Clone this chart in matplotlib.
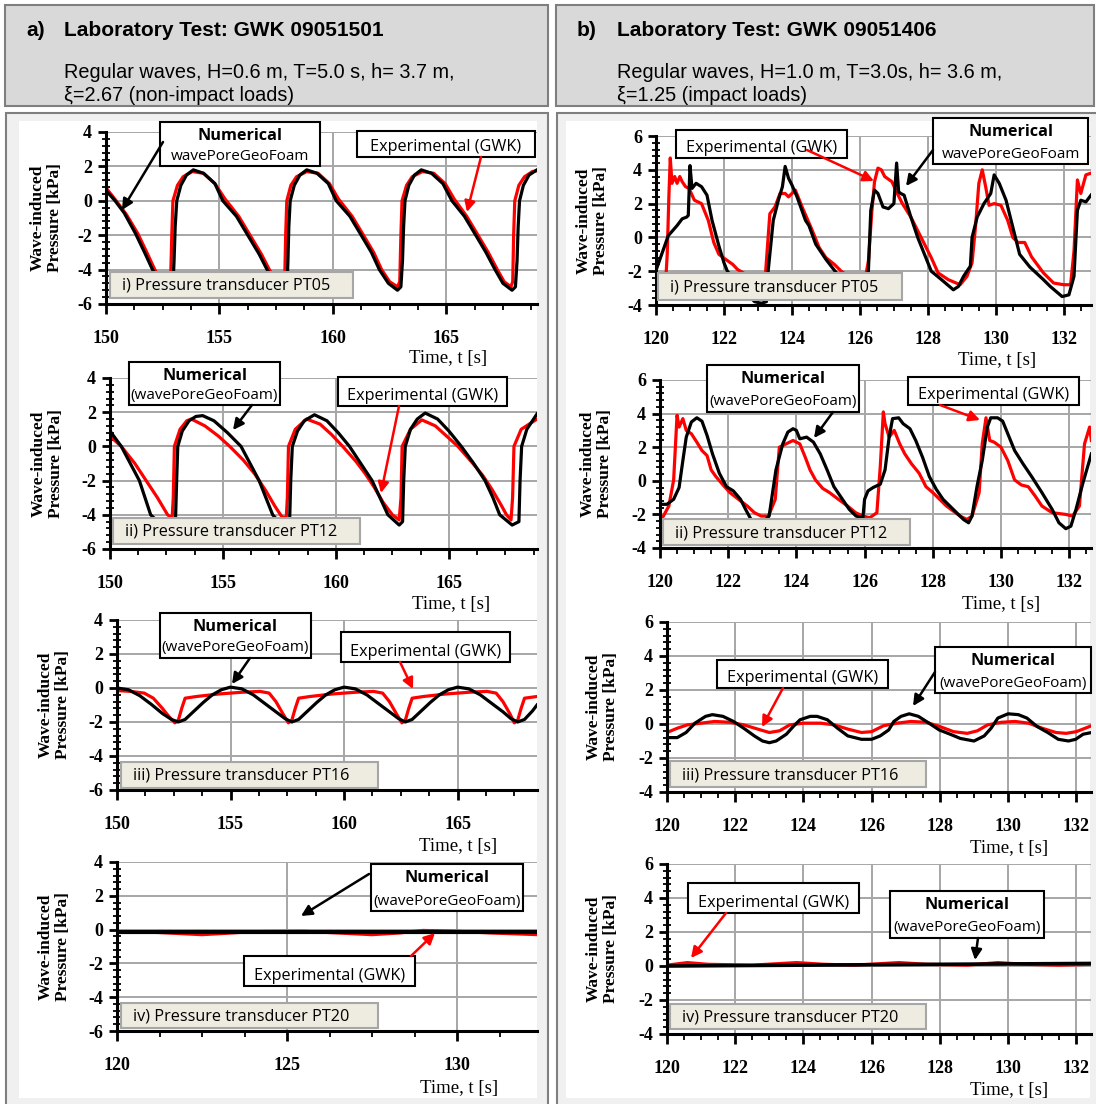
import matplotlib
matplotlib.use("Agg")
import matplotlib.pyplot as plt
from matplotlib.patches import Rectangle, FancyArrowPatch
from matplotlib.ticker import MultipleLocator

plt.rcParams['axes.unicode_minus'] = False

# ---------------- text content ----------------
head_a = ("a)", "Laboratory Test: GWK 09051501",
          "Regular waves, H=0.6 m, T=5.0 s, h= 3.7 m,", "ξ=2.67 (non-impact loads)")
head_b = ("b)", "Laboratory Test: GWK 09051406",
          "Regular waves, H=1.0 m, T=3.0s, h= 3.6 m,", "ξ=1.25 (impact loads)")
panel_labels_left = ["i) Pressure transducer PT05", "ii) Pressure transducer PT12",
                     "iii) Pressure transducer PT16", "iv) Pressure transducer PT20"]
panel_labels_right = panel_labels_left
num_second_lines_left = ["wavePoreGeoFoam", "(wavePoreGeoFoam)", "(wavePoreGeoFoam)", "(wavePoreGeoFoam)"]
num_second_lines_right = ["wavePoreGeoFoam", "(wavePoreGeoFoam)", "(wavePoreGeoFoam)", "(wavePoreGeoFoam)"]

# ---------------- tick values ----------------
xticks_left_a = [150, 155, 160, 165]
xticks_left_b = [120, 125, 130]
xticks_right = [120, 122, 124, 126, 128, 130, 132]
yticks_left = [-6, -4, -2, 0, 2, 4]
yticks_right = [-4, -2, 0, 2, 4, 6]

# ---------------- series (time [s], pressure [kPa]) ----------------
L1_num = [(150.0,0.6),(150.4,0.0),(150.8,-0.7),(151.3,-1.9),(151.7,-3.0),(152.05,-4.0),(152.4,-4.7),(152.8,-5.2),
          (152.95,-5.0),(153.0,-3.5),(153.05,-1.5),(153.12,0.0),(153.3,0.9),(153.55,1.5),(153.85,1.8),(154.3,1.6),
          (154.8,1.0),(155.15,0.0),(155.75,-0.9),(156.25,-2.0),(156.75,-3.1),(157.1,-4.0),(157.45,-4.7),(157.85,-5.2),
          (157.98,-5.0),(158.02,-3.5),(158.06,-1.5),(158.12,0.0),(158.3,0.9),(158.55,1.5),(158.85,1.8),(159.3,1.6),
          (159.8,1.0),(160.15,0.0),(160.75,-0.9),(161.25,-2.0),(161.7,-3.0),(162.05,-4.0),(162.45,-4.8),(162.85,-5.2),
          (163.0,-5.0),(163.07,-3.5),(163.12,-1.5),(163.18,0.0),(163.35,0.9),(163.6,1.5),(163.9,1.8),(164.35,1.6),
          (164.85,1.0),(165.25,0.0),(165.8,-0.9),(166.3,-2.0),(166.75,-3.0),(167.15,-4.0),(167.5,-4.8),(167.9,-5.2),
          (168.05,-5.0),(168.12,-3.5),(168.17,-1.5),(168.23,0.0),(168.4,0.9),(168.65,1.5),(169.0,1.8)]
L1_exp = [(150.0,0.75),(150.45,0.0),(150.9,-0.8),(151.4,-1.9),(151.8,-3.0),(152.15,-4.0),(152.45,-4.6),(152.75,-4.9),
          (152.85,-4.5),(152.9,-2.0),(152.95,0.0),(153.15,0.9),(153.4,1.4),(153.8,1.7),(154.3,1.6),(154.8,1.0),
          (155.25,0.1),(155.85,-0.9),(156.35,-2.0),(156.85,-3.1),(157.2,-4.0),(157.5,-4.6),(157.8,-4.9),(157.88,-4.5),
          (157.92,-2.0),(157.97,0.0),(158.15,0.9),(158.4,1.4),(158.85,1.7),(159.35,1.6),(159.85,1.0),(160.25,0.1),
          (160.85,-0.9),(161.35,-2.0),(161.8,-3.0),(162.15,-4.0),(162.5,-4.7),(162.85,-5.0),(162.95,-4.7),(163.0,-2.0),
          (163.05,0.0),(163.25,0.9),(163.5,1.4),(163.95,1.7),(164.45,1.6),(164.95,1.0),(165.35,0.1),(165.9,-0.9),
          (166.4,-2.0),(166.85,-3.0),(167.25,-4.0),(167.55,-4.7),(167.85,-5.0),(167.93,-4.7),(167.97,-2.0),(168.02,0.0),
          (168.2,0.9),(168.45,1.4),(168.8,1.7),(169.0,1.75)]

L2_num = [(150.0,0.9),(150.5,0.0),(150.9,-1.0),(151.3,-2.0),(151.55,-3.0),(151.8,-4.0),(152.2,-4.5),(152.7,-4.7),
          (152.9,-4.3),(152.95,-2.0),(153.0,0.0),(153.2,0.9),(153.5,1.5),(153.8,1.75),(154.1,1.8),(154.6,1.5),
          (155.2,0.8),(155.8,0.0),(156.2,-1.0),(156.6,-2.0),(156.9,-3.0),(157.2,-4.0),(157.6,-4.6),(157.95,-4.4),
          (158.0,-2.0),(158.07,0.0),(158.3,0.9),(158.6,1.5),(159.05,1.85),(159.6,1.5),(160.1,0.8),(160.6,0.0),
          (161.1,-1.0),(161.6,-2.0),(161.95,-3.0),(162.3,-4.0),(162.8,-4.6),(162.95,-4.4),(163.0,-2.0),(163.07,0.0),
          (163.3,1.0),(163.6,1.6),(163.95,1.95),(164.5,1.6),(165.0,0.9),(165.55,0.0),(166.1,-1.0),(166.6,-2.0),
          (166.95,-3.0),(167.25,-4.0),(167.8,-4.6),(168.1,-4.4),(168.15,-2.0),(168.22,0.0),(168.45,1.0),(168.9,1.9)]
L2_exp = [(150.0,0.6),(150.5,0.0),(151.1,-1.0),(151.6,-2.0),(152.1,-3.0),(152.55,-4.0),(152.75,-4.2),(152.8,-3.0),
          (152.85,0.0),(153.1,1.0),(153.4,1.5),(153.6,1.6),(154.2,1.2),(154.8,0.6),(155.3,0.0),(155.9,-0.8),
          (156.4,-1.6),(156.9,-2.6),(157.3,-3.5),(157.6,-4.1),(157.8,-4.2),(157.85,-3.0),(157.9,0.0),(158.2,1.0),
          (158.7,1.6),(159.3,1.3),(159.8,0.7),(160.3,0.0),(160.9,-0.9),(161.3,-1.6),(161.7,-2.4),(162.1,-3.3),
          (162.5,-4.0),(162.8,-4.3),(162.88,-3.0),(162.93,0.0),(163.3,1.0),(163.8,1.55),(164.4,1.2),(164.9,0.6),
          (165.4,0.0),(166.0,-0.9),(166.5,-1.7),(166.9,-2.5),(167.3,-3.4),(167.55,-4.0),(167.75,-4.3),(167.82,-3.0),
          (167.88,0.0),(168.2,1.0),(168.9,1.6)]

L3_num = [(150.0,0.0),(150.5,-0.1),(151.0,-0.45),(151.5,-0.95),(152.0,-1.5),(152.4,-1.85),(152.7,-2.0),(153.0,-1.85),
          (153.4,-1.35),(153.8,-0.85),(154.2,-0.4),(154.6,-0.1),(155.0,0.05),(155.5,-0.05),(156.0,-0.4),(156.5,-0.9),
          (157.0,-1.4),(157.4,-1.8),(157.7,-2.0),(158.0,-1.85),(158.4,-1.35),(158.8,-0.85),(159.2,-0.4),(159.6,-0.1),
          (160.0,0.05),(160.5,-0.05),(161.0,-0.4),(161.5,-0.9),(162.0,-1.4),(162.4,-1.8),(162.7,-2.0),(163.0,-1.85),
          (163.4,-1.35),(163.8,-0.85),(164.2,-0.4),(164.6,-0.1),(165.0,0.05),(165.5,-0.05),(166.0,-0.4),(166.5,-0.9),
          (167.0,-1.4),(167.35,-1.8),(167.65,-2.0),(167.95,-1.85),(168.3,-1.35),(168.5,-1.0)]
L3_exp = [(150.0,-0.15),(150.6,-0.2),(151.2,-0.3),(151.6,-0.6),(152.0,-1.2),(152.3,-1.7),(152.55,-2.05),(152.7,-1.9),
          (152.85,-1.2),(153.0,-0.6),(153.5,-0.5),(154.5,-0.35),(155.5,-0.25),(156.3,-0.2),(156.7,-0.3),(157.0,-0.8),
          (157.3,-1.5),(157.55,-2.05),(157.7,-1.9),(157.85,-1.2),(158.0,-0.6),(158.5,-0.5),(159.5,-0.35),(160.5,-0.25),
          (161.3,-0.2),(161.7,-0.3),(162.0,-0.8),(162.3,-1.5),(162.55,-2.05),(162.7,-1.9),(162.85,-1.2),(163.0,-0.6),
          (163.5,-0.5),(164.5,-0.35),(165.5,-0.25),(166.3,-0.2),(166.7,-0.3),(167.0,-0.8),(167.3,-1.5),(167.5,-2.05),
          (167.65,-1.9),(167.8,-1.2),(167.95,-0.6),(168.5,-0.5)]

L4_num = [(120.0,-0.15),(122.0,-0.15),(124.0,-0.15),(126.0,-0.15),(128.0,-0.15),(130.0,-0.15),(132.4,-0.15)]
L4_exp = [(120.0,-0.12),(121.0,-0.15),(122.0,-0.25),(122.5,-0.3),(123.2,-0.22),(124.0,-0.12),(125.5,-0.1),
          (126.5,-0.2),(127.5,-0.3),(128.3,-0.2),(129.0,-0.05),(130.0,-0.1),(131.0,-0.2),(132.4,-0.3)]

R1_num = [(120.0,-1.95),(120.36,0.1),(120.62,0.7),(120.77,1.1),(120.9,1.2),(120.95,1.3),(121.0,4.25),(121.06,2.9),
          (121.18,3.2),(121.34,3.0),(121.5,2.5),(121.65,1.0),(121.85,-0.5),(122.0,-1.5),(122.1,-2.0),(122.5,-3.0),
          (122.9,-3.8),(123.1,-3.9),(123.25,-3.8),(123.3,-2.0),(123.45,1.0),(123.6,2.2),(123.72,3.0),(123.8,4.2),
          (123.9,3.5),(124.0,3.1),(124.15,2.4),(124.4,1.0),(124.5,0.7),(124.7,-0.4),(125.0,-1.3),(125.25,-1.95),
          (125.6,-2.8),(126.0,-3.3),(126.25,-2.0),(126.32,1.6),(126.43,2.8),(126.53,2.6),(126.68,1.8),(126.84,1.7),
          (127.0,2.0),(127.08,4.4),(127.14,2.7),(127.2,2.6),(127.3,2.5),(127.5,1.2),(127.7,0.0),(127.9,-1.0),
          (128.1,-2.0),(128.4,-2.5),(128.75,-3.1),(128.9,-2.9),(129.05,-2.3),(129.25,-1.7),(129.3,0.0),(129.45,1.2),
          (129.65,2.0),(129.85,2.6),(129.95,3.7),(130.1,3.2),(130.3,2.2),(130.5,0.6),(130.7,-1.0),(131.0,-1.75),
          (131.4,-2.5),(131.6,-2.9),(131.95,-3.5),(132.15,-3.4),(132.3,-2.3),(132.4,1.6),(132.5,2.2),(132.65,2.1),
          (132.8,2.5)]
R1_exp = [(120.0,-3.0),(120.28,-2.8),(120.33,-1.0),(120.38,2.5),(120.42,4.7),(120.47,3.2),(120.55,3.6),(120.62,3.2),
          (120.7,3.6),(120.77,3.3),(120.87,3.0),(120.97,2.9),(121.13,2.2),(121.34,2.0),(121.54,1.0),(121.7,-0.3),
          (121.85,-1.0),(122.05,-1.3),(122.26,-1.6),(122.4,-1.9),(122.57,-2.1),(122.9,-2.6),(123.2,-2.8),(123.27,-0.8),
          (123.35,1.4),(123.5,1.8),(123.65,2.6),(123.8,2.6),(123.9,2.4),(124.1,2.8),(124.3,1.8),(124.6,0.4),
          (124.8,-0.6),(125.0,-1.2),(125.25,-1.6),(125.45,-2.0),(125.8,-2.5),(126.15,-2.5),(126.25,-1.4),(126.35,1.5),
          (126.43,3.3),(126.53,4.1),(126.63,4.0),(126.73,3.6),(126.94,3.3),(127.1,2.6),(127.25,2.0),(127.5,1.2),
          (127.7,0.4),(127.9,-0.4),(128.1,-1.2),(128.3,-2.1),(128.6,-2.5),(128.95,-2.8),(129.15,-2.3),(129.3,-1.5),
          (129.4,0.6),(129.5,3.2),(129.6,4.0),(129.7,3.0),(129.8,1.9),(129.95,2.0),(130.15,1.9),(130.35,1.0),
          (130.5,0.0),(130.65,-0.3),(130.85,-0.3),(131.05,-1.15),(131.4,-2.1),(131.7,-2.7),(132.0,-2.8),(132.2,-2.8),
          (132.3,-0.8),(132.4,3.4),(132.5,2.6),(132.65,3.7),(132.8,3.8)]

R2_num = [(120.0,-1.4),(120.2,-1.4),(120.4,-1.1),(120.56,-0.4),(120.67,1.2),(120.77,2.6),(120.92,3.5),(121.08,3.75),
          (121.23,3.55),(121.38,2.7),(121.54,1.6),(121.74,0.45),(121.95,-0.35),(122.15,-0.6),(122.36,-1.1),(122.51,-1.7),
          (122.67,-2.3),(122.95,-2.6),(123.2,-2.1),(123.4,0.65),(123.6,2.2),(123.75,2.9),(123.9,3.1),(124.0,3.0),
          (124.1,2.5),(124.3,2.6),(124.5,2.3),(124.7,1.6),(124.9,0.65),(125.1,-0.35),(125.35,-1.1),(125.55,-1.7),
          (125.75,-2.1),(125.95,-2.2),(126.0,-1.1),(126.1,-0.6),(126.25,-0.4),(126.46,-0.2),(126.6,0.65),(126.72,2.6),
          (126.82,3.7),(127.0,3.75),(127.13,3.4),(127.33,3.1),(127.5,2.4),(127.7,1.4),(127.9,0.25),(128.1,-0.5),
          (128.3,-1.1),(128.5,-1.5),(128.7,-1.9),(128.9,-2.3),(129.05,-2.5),(129.15,-2.1),(129.3,-0.3),(129.45,1.2),
          (129.6,3.2),(129.7,3.75),(129.9,3.75),(130.05,3.55),(130.2,2.8),(130.4,1.8),(130.65,1.0),(130.9,0.25),
          (131.2,-0.7),(131.5,-1.7),(131.7,-2.5),(131.9,-2.85),(132.05,-2.7),(132.2,-1.7),(132.4,-0.15),(132.65,1.6)]
R2_exp = [(120.0,-2.3),(120.1,-2.1),(120.26,-1.5),(120.4,0.05),(120.5,3.9),(120.56,3.2),(120.67,3.7),(120.77,3.0),
          (120.92,2.8),(121.08,2.3),(121.23,1.8),(121.38,1.5),(121.5,0.65),(121.64,0.25),(121.85,-0.25),(122.05,-0.7),
          (122.3,-1.1),(122.56,-1.5),(122.77,-1.9),(122.97,-2.1),(123.18,-2.1),(123.38,-1.1),(123.5,2.0),(123.7,2.2),
          (123.9,2.4),(124.1,2.2),(124.26,1.4),(124.4,0.65),(124.56,0.05),(124.77,-0.45),(124.97,-0.7),(125.23,-1.1),
          (125.5,-1.5),(125.74,-1.9),(125.95,-2.1),(126.15,-2.2),(126.36,-1.9),(126.46,0.85),(126.55,4.1),(126.6,3.4),
          (126.72,2.6),(126.87,3.0),(127.03,2.2),(127.18,1.6),(127.38,1.0),(127.6,0.45),(127.8,-0.35),(128.0,-0.7),
          (128.2,-1.1),(128.4,-1.5),(128.6,-1.8),(128.8,-2.1),(129.0,-2.3),(129.15,-2.1),(129.36,-0.7),(129.45,2.2),
          (129.56,3.75),(129.67,2.4),(129.8,2.3),(130.0,2.0),(130.2,1.2),(130.4,0.05),(130.6,-0.25),(130.8,-0.35),
          (131.0,-0.9),(131.2,-1.5),(131.5,-1.9),(131.9,-2.0),(132.1,-2.1),(132.3,-1.5),(132.45,2.2),(132.6,3.2),
          (132.65,2.4)]

R3_num = [(120.0,-0.8),(120.3,-0.8),(120.56,-0.5),(120.82,0.05),(121.13,0.45),(121.33,0.55),(121.64,0.45),(121.95,0.15),
          (122.25,-0.25),(122.56,-0.7),(122.8,-1.0),(123.0,-1.1),(123.2,-1.0),(123.5,-0.6),(123.7,-0.15),(123.9,0.25),
          (124.2,0.45),(124.4,0.45),(124.7,0.25),(125.0,-0.25),(125.3,-0.7),(125.7,-0.9),(126.0,-0.9),(126.25,-0.7),
          (126.5,-0.35),(126.65,0.15),(126.86,0.45),(127.1,0.6),(127.37,0.45),(127.68,0.05),(127.98,-0.35),(128.3,-0.6),
          (128.6,-0.85),(129.0,-1.0),(129.3,-0.7),(129.5,-0.25),(129.7,0.35),(130.0,0.6),(130.3,0.55),(130.55,0.35),
          (130.85,-0.15),(131.16,-0.5),(131.47,-0.9),(131.77,-1.0),(131.98,-0.9),(132.2,-0.6),(132.45,-0.5)]
R3_exp = [(120.0,-0.5),(120.3,-0.25),(120.6,-0.05),(121.0,0.05),(121.4,0.15),(121.85,0.1),(122.25,-0.05),(122.66,-0.3),
          (123.0,-0.5),(123.3,-0.4),(123.6,-0.05),(124.0,0.05),(124.5,0.05),(124.9,-0.05),(125.3,-0.3),(125.7,-0.5),
          (126.0,-0.45),(126.35,-0.1),(126.75,0.05),(127.15,0.15),(127.6,0.1),(128.0,-0.15),(128.4,-0.45),(128.8,-0.55),
          (129.1,-0.4),(129.4,-0.05),(129.8,0.1),(130.2,0.15),(130.6,0.05),(131.0,-0.25),(131.4,-0.5),(131.7,-0.55),
          (132.0,-0.45),(132.45,-0.1)]

R4_num = [(120.0,0.0),(124.0,0.05),(128.0,0.1),(132.45,0.15)]
R4_exp = [(120.0,0.05),(120.6,0.2),(121.2,0.1),(122.5,0.05),(123.8,0.2),(124.6,0.1),(125.5,0.05),(126.8,0.2),
          (127.6,0.1),(128.8,0.05),(129.7,0.2),(130.5,0.1),(131.5,0.05),(132.45,0.1)]

# ---------------- figure ----------------
W, H = 1096, 1104
fig = plt.figure(figsize=(W / 100, H / 100), dpi=100)
fig.patch.set_facecolor("white")

SERIF = "Liberation Serif"
SANS = "Liberation Sans"
CAL = "Open Sans"


def fx(x):
    return x / W


def fy(y):
    return 1 - y / H


def rect(x0, y0, x1, y1, fc, ec, lw=1.0, z=5):
    r = Rectangle((fx(x0), fy(y1)), (x1 - x0) / W, (y1 - y0) / H, transform=fig.transFigure,
                  facecolor=fc, edgecolor=ec, linewidth=lw, zorder=z)
    fig.add_artist(r)


def text(x, y, s, z=8, **kw):
    return fig.text(fx(x), fy(y), s, zorder=z, **kw)


def arrow(x0, y0, x1, y1, color):
    a = FancyArrowPatch((fx(x0), fy(y0)), (fx(x1), fy(y1)), transform=fig.transFigure,
                        arrowstyle="-|>", mutation_scale=16, color=color, lw=1.8, zorder=9,
                        shrinkA=0, shrinkB=0)
    fig.add_artist(a)


# header boxes
for (x0, x1, hd, xa, xt) in [(5, 548, head_a, 26, 64), (556, 1094, head_b, 577, 617)]:
    rect(x0, 5, x1, 106, "#d9d9d9", "#7f7f7f", lw=1.5, z=-5)
    text(xa, 31, hd[0], fontsize=15, fontweight="bold", family=SANS, ha="left", va="center")
    text(xt, 31, hd[1], fontsize=15, fontweight="bold", family=SANS, ha="left", va="center")
    text(xt, 72, hd[2], fontsize=14.3, family=SANS, ha="left", va="center")
    text(xt, 96, hd[3], fontsize=14.3, family=SANS, ha="left", va="center")

# outer frames
rect(6, 113, 548, 1110, "#f0f0f0", "#7f7f7f", lw=1.5, z=-5)
rect(19, 121, 537, 1098, "white", "none", lw=0, z=-4)
rect(557, 113, 1100, 1110, "#f0f0f0", "#7f7f7f", lw=1.5, z=-5)
rect(566, 121, 1090, 1098, "white", "none", lw=0, z=-4)

# panel layout (pixel geometry) and content
panels = [
    (L1_num, L1_exp, (106, 537, 132, 304), (150, 169.0), (-6, 4), xticks_left_a, 1.25, yticks_left,
     (110, 272, 353, 298), panel_labels_left[0], (160, 122, 320, 166), num_second_lines_left[0],
     (357, 131, 535, 157), (163, 142, 122, 210), (481, 157, 467, 212), 46, (487, 359), 2.3),
    (L2_num, L2_exp, (110, 537, 378, 549), (150, 168.9), (-6, 4), xticks_left_a, 1.25, yticks_left,
     (113, 518, 360, 544), panel_labels_left[1], (129, 362, 280, 405), num_second_lines_left[1],
     (338, 377, 507, 406), (252, 405, 233, 430), (399, 406, 381, 493), 47, (490, 604), 2.3),
    (L3_num, L3_exp, (117, 537, 620, 790), (150, 168.5), (-6, 4), xticks_left_a, 1.25, yticks_left,
     (121, 762, 378, 788), panel_labels_left[2], (160, 613, 311, 658), num_second_lines_left[2],
     (341, 632, 510, 662), (250, 658, 232, 684), (400, 662, 413, 689), 54, (497, 846), 2.3),
    (L4_num, L4_exp, (117, 537, 862, 1031), (120, 132.35), (-6, 4), xticks_left_b, 1.25, yticks_left,
     (121, 1003, 378, 1028), panel_labels_left[3], (371, 864, 523, 911), num_second_lines_left[3],
     (244, 956, 415, 986), (369, 874, 301, 916), (411, 956, 435, 933), 54, (498, 1089), 3.0),
    (R1_num, R1_exp, (656, 1091, 136, 305), (120, 132.8), (-4, 6), xticks_right, 0.5, yticks_right,
     (658, 273, 902, 300), panel_labels_right[0], (933, 118, 1088, 164), num_second_lines_right[0],
     (676, 130, 847, 158), (933, 150, 906, 186), (807, 150, 874, 181), 592, (1036, 360), 2.3),
    (R2_num, R2_exp, (660, 1091, 380, 548), (120, 132.64), (-4, 6), xticks_right, 0.5, yticks_right,
     (663, 519, 910, 545), panel_labels_right[1], (707, 365, 859, 412), num_second_lines_right[1],
     (908, 377, 1079, 405), (833, 412, 814, 438), (940, 405, 980, 420), 596, (1040, 605), 2.3),
    (R3_num, R3_exp, (667, 1091, 622, 792), (120, 132.43), (-4, 6), xticks_right, 0.5, yticks_right,
     (670, 761, 926, 787), panel_labels_right[2], (935, 647, 1091, 693), num_second_lines_right[2],
     (717, 660, 888, 688), (935, 672, 913, 706), (783, 688, 762, 727), 602, (1048, 848), 2.3),
    (R4_num, R4_exp, (667, 1091, 864, 1034), (120, 132.43), (-4, 6), xticks_right, 0.5, yticks_right,
     (670, 1004, 926, 1029), panel_labels_right[3], (890, 891, 1044, 938), num_second_lines_right[3],
     (688, 883, 859, 913), (978, 938, 975, 960), (726, 913, 691, 958), 602, (1048, 1090), 2.6),
]

for (snum, sexp, box, xlim, ylim, xt, xminor, yt, lbox, ltxt, nbox, n2, ebox, narr, earr, ylx, tlab, nlw) in panels:
    x0, x1, yt0, yb0 = box
    ax = fig.add_axes([fx(x0), fy(yb0), (x1 - x0) / W, (yb0 - yt0) / H])
    ax.set_facecolor("none")
    ax.set_xlim(*xlim)
    ax.set_ylim(*ylim)
    for s in ["top", "right"]:
        ax.spines[s].set_visible(False)
    for s in ["left", "bottom"]:
        ax.spines[s].set_linewidth(2.2)
        ax.spines[s].set_color("black")
        ax.spines[s].set_zorder(4)
    ax.set_xticks(xt, labels=[str(v) for v in xt])
    ax.set_yticks(yt, labels=[str(v) for v in yt])
    ax.xaxis.set_minor_locator(MultipleLocator(xminor))
    ax.yaxis.set_minor_locator(MultipleLocator(0.4))
    ax.tick_params(axis="x", which="major", direction="out", length=7, width=2, pad=12)
    ax.tick_params(axis="x", which="minor", direction="out", length=4.5, width=1.3)
    ax.tick_params(axis="y", which="major", direction="out", length=6, width=2, pad=4)
    ax.tick_params(axis="y", which="minor", direction="inout", length=6, width=1.3)
    for lab in ax.get_xticklabels() + ax.get_yticklabels():
        lab.set_fontfamily(SERIF)
        lab.set_fontweight("bold")
        lab.set_fontsize(13)
    ax.grid(True, which="major", color="#a6a6a6", lw=1.4)
    ax.set_axisbelow(True)
    te, pe = zip(*sexp)
    tn, pn = zip(*snum)
    ax.plot(te, pe, color="#ff0000", lw=2.3, zorder=2, solid_joinstyle="round")
    ax.plot(tn, pn, color="black", lw=nlw, zorder=3, solid_joinstyle="round")

    # y label
    text(ylx, (yt0 + yb0) / 2, "Wave-induced\nPressure [kPa]", rotation=90, ha="center", va="center",
         family=SERIF, fontweight="bold", fontsize=12.5, linespacing=1.1, multialignment="center")
    # time label
    text(tlab[0], tlab[1], "Time, t [s]", ha="right", va="center", family=SERIF, fontsize=13.5)

    # panel label box
    rect(lbox[0], lbox[1], lbox[2], lbox[3], "#eeece1", "#a6a6a6", lw=1.5, z=6)
    text(lbox[0] + 12, (lbox[1] + lbox[3]) / 2 + 1, ltxt, ha="left", va="center", family=CAL, fontsize=11.7)

    # numerical box
    rect(nbox[0], nbox[1], nbox[2], nbox[3], "white", "black", lw=1.5, z=6)
    cx = (nbox[0] + nbox[2]) / 2
    text(cx, nbox[1] + 14, "Numerical", ha="center", va="center", family=CAL, fontweight="bold", fontsize=11.7)
    text(cx, nbox[3] - 10, n2, ha="center", va="center", family=CAL, fontsize=11.0)
    # experimental box
    rect(ebox[0], ebox[1], ebox[2], ebox[3], "white", "black", lw=1.5, z=6)
    text((ebox[0] + ebox[2]) / 2, ebox[3] - 10, "Experimental (GWK)", ha="center", va="center",
         family=CAL, fontsize=11.7)

    arrow(narr[0], narr[1], narr[2], narr[3], "black")
    arrow(earr[0], earr[1], earr[2], earr[3], "#ff0000")

fig.savefig("out.png", dpi=100, facecolor="white")
